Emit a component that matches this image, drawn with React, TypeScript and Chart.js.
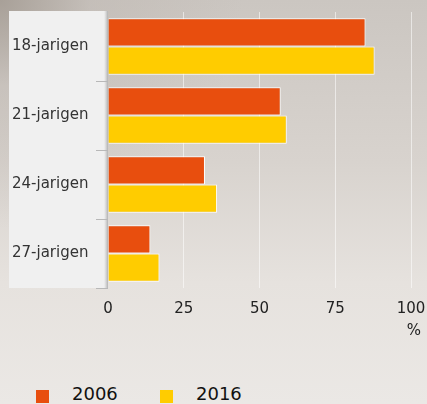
import React, { useEffect, useRef } from "react";
import { Chart, registerables } from "chart.js";

Chart.register(...registerables);

const categories = ["18-jarigen", "21-jarigen", "24-jarigen", "27-jarigen"];
const values2006 = [85, 57, 32, 14];
const values2016 = [88, 59, 36, 17];
const seriesNames = ["2006", "2016"];
const xTicks = [0, 25, 50, 75, 100];
const axisUnit = "%";

const COLOR_2006 = "#e84e0e";
const COLOR_2016 = "#ffcc00";
const FONT = "'DejaVu Sans', Verdana, sans-serif";

const panelPlugin = {
  id: "panelPlugin",
  beforeDraw(chart: any) {
    const { ctx, chartArea } = chart;
    ctx.save();
    ctx.fillStyle = "#f0f0f0";
    ctx.fillRect(9, chartArea.top - 1, chartArea.left - 9, chartArea.bottom - chartArea.top + 1);
    const g = ctx.createLinearGradient(chartArea.left - 4, 0, chartArea.left, 0);
    g.addColorStop(0, "rgba(190,190,190,0)");
    g.addColorStop(1, "rgba(170,170,170,0.9)");
    ctx.fillStyle = g;
    ctx.fillRect(chartArea.left - 4, chartArea.top - 1, 4, chartArea.bottom - chartArea.top + 1);
    ctx.restore();
  },
  afterDraw(chart: any) {
    const { ctx, chartArea } = chart;
    ctx.save();
    ctx.fillStyle = "#222";
    ctx.font = `15px ${FONT}`;
    ctx.textAlign = "right";
    ctx.textBaseline = "middle";
    ctx.fillText(axisUnit, chartArea.right + 10, chartArea.bottom + 43);
    ctx.restore();
  },
};

export default function App() {
  const ref = useRef<HTMLCanvasElement | null>(null);

  useEffect(() => {
    document.body.style.margin = "0";
    document.body.style.background = "#e6e2de";
    const canvas = ref.current;
    if (!canvas) return;
    const chart = new Chart(canvas, {
      type: "bar",
      data: {
        labels: categories,
        datasets: [
          {
            label: seriesNames[0],
            data: values2006,
            backgroundColor: COLOR_2006,
            borderColor: "#ffffff",
            borderWidth: 1,
            barPercentage: 1,
            categoryPercentage: 0.82,
          },
          {
            label: seriesNames[1],
            data: values2016,
            backgroundColor: COLOR_2016,
            borderColor: "#ffffff",
            borderWidth: 1,
            barPercentage: 1,
            categoryPercentage: 0.82,
          },
        ],
      },
      options: {
        indexAxis: "y",
        animation: false,
        responsive: false,
        maintainAspectRatio: false,
        layout: { padding: { left: 12, top: 10, right: 16, bottom: 0 } },
        plugins: {
          legend: { display: false },
          tooltip: { enabled: false },
        },
        scales: {
          x: {
            min: 0,
            max: 100,
            afterBuildTicks: (scale: any) => {
              scale.ticks = xTicks.map((v) => ({ value: v }));
            },
            afterFit: (scale: any) => {
              scale.height = 60;
              scale.paddingRight = 0;
              scale.paddingLeft = 0;
            },
            grid: {
              color: (c: any) => (c.tick && c.tick.value === 0 ? "rgba(0,0,0,0)" : "rgba(255,255,255,0.55)"),
              drawTicks: false,
            },
            border: { display: false },
            ticks: {
              padding: 12,
              color: "#222",
              font: { family: FONT, size: 15 },
            },
          },
          y: {
            afterFit: (scale: any) => {
              scale.width = 96;
            },
            grid: {
              drawOnChartArea: false,
              offset: true,
              tickLength: 12,
              color: (c: any) => (c.index === 0 ? "rgba(0,0,0,0)" : "#b8b8b8"),
            },
            border: { display: false },
            ticks: {
              crossAlign: "far",
              color: "#333",
              font: { family: FONT, size: 15 },
            },
          },
        },
      },
      plugins: [panelPlugin],
    } as any);
    return () => chart.destroy();
  }, []);

  const legendItem = (color: string, text: string, left: number) => (
    <div style={{ position: "absolute", left, top: 383, display: "flex", alignItems: "center" }}>
      <span style={{ display: "inline-block", width: 13, height: 13, background: color, marginTop: 5 }} />
      <span style={{ marginLeft: 23, fontFamily: FONT, fontSize: 18, color: "#111" }}>{text}</span>
    </div>
  );

  return (
    <div
      style={{
        position: "relative",
        width: 427,
        height: 404,
        overflow: "hidden",
        background:
          "radial-gradient(ellipse at 0% 0%, #a8a098 0%, rgba(190,183,177,0.5) 15%, rgba(0,0,0,0) 40%), linear-gradient(180deg, #cbc6c1 0%, #d8d3ce 40%, #e6e2de 70%, #ebe8e5 100%)",
      }}
    >
      <canvas ref={ref} width={427} height={348} style={{ position: "absolute", left: 0, top: 0 }} />
      {legendItem(COLOR_2006, seriesNames[0], 36)}
      {legendItem(COLOR_2016, seriesNames[1], 160)}
    </div>
  );
}
